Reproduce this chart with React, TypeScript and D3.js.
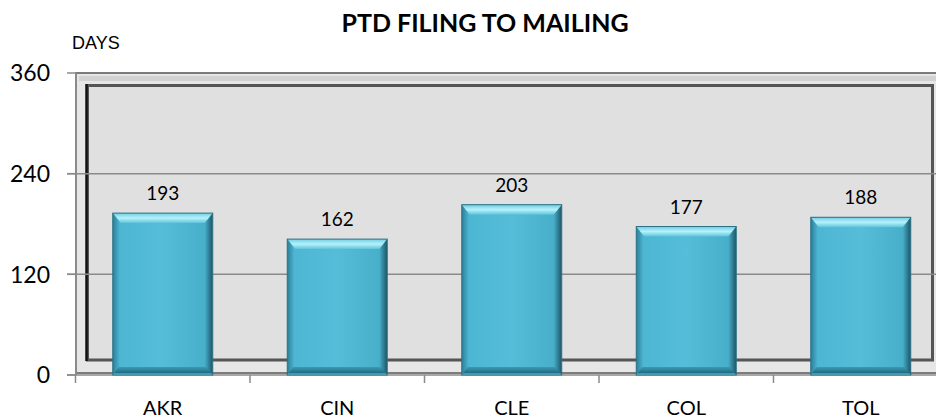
import * as d3 from 'd3';

const categories = ['AKR', 'CIN', 'CLE', 'COL', 'TOL'];
const values = [193, 162, 203, 177, 188];
const yTicks = [0, 120, 240, 360];
const title = 'PTD FILING TO MAILING';
const yUnit = 'DAYS';

const W = 936;
const H = 420;
const plotLeft = 75.5;
const step = 174.5;
const y0 = 375;
const yTop = 73;

export default function App() {
  const x = d3
    .scaleBand<string>()
    .domain(categories)
    .range([plotLeft, plotLeft + step * categories.length])
    .paddingInner(0.427)
    .paddingOuter(0.2135);
  const y = d3.scaleLinear().domain([0, 360]).range([y0, yTop]);
  const bw = x.bandwidth();
  const bev = 8;
  const font = 'Lato, "Open Sans", sans-serif';

  return (
    <div style={{ position: 'fixed', left: 0, top: 0 }}>
      <svg width={W} height={H} viewBox={`0 0 ${W} ${H}`} style={{ display: 'block', background: '#fff' }}>
        <defs>
          <linearGradient id="barH" x1="0" x2="1" y1="0" y2="0">
            <stop offset="0" stopColor="#2a7f98" />
            <stop offset="0.07" stopColor="#4db6d2" />
            <stop offset="0.5" stopColor="#55bdd8" />
            <stop offset="0.92" stopColor="#48afcb" />
            <stop offset="1" stopColor="#1c5566" />
          </linearGradient>
          <linearGradient id="bevTop" x1="0" x2="0" y1="0" y2="1">
            <stop offset="0" stopColor="#6fcde3" />
            <stop offset="0.5" stopColor="#b6f2fb" />
            <stop offset="1" stopColor="#5ec3dc" />
          </linearGradient>
          <linearGradient id="bevBot" x1="0" x2="0" y1="0" y2="1">
            <stop offset="0" stopColor="#3a9ab5" />
            <stop offset="0.7" stopColor="#236f86" />
            <stop offset="1" stopColor="#7fd8ec" />
          </linearGradient>
        </defs>

        {/* back wall */}
        <rect x={76} y={73} width={W} height={300} fill="#e6e6e6" stroke="#7c7c7c" strokeWidth={2} />
        <rect x={79} y={76} width={W} height={5} fill="#d2d2d2" />
        <rect x={87.5} y={85.5} width={845} height={274.5} fill="#e0e0e0" stroke="#555" strokeWidth={3} />
        <line x1={86.5} x2={86.5} y1={84} y2={361} stroke="#111" strokeWidth={2.5} />

        {/* grid */}
        {yTicks.filter((t) => t > 0 && t < 360).map((t) => (
          <line key={t} x1={67} x2={W} y1={y(t)} y2={y(t)} stroke="#8a8a8a" strokeWidth={1.5} />
        ))}

        {/* axes */}
        <line x1={76} x2={76} y1={yTop} y2={y0} stroke="#8a8a8a" strokeWidth={2} />
        <line x1={67} x2={W} y1={y0} y2={y0} stroke="#8a8a8a" strokeWidth={1.5} />
        {yTicks.map((t) => (
          <g key={`yt-${t}`}>
            <line x1={67} x2={76} y1={y(t)} y2={y(t)} stroke="#8a8a8a" strokeWidth={1.5} />
            <text x={50} y={y(t)} dy="0.36em" textAnchor="end" fontFamily={font} fontSize={23} fill="#000">
              {t}
            </text>
          </g>
        ))}
        {categories.map((c, i) => (
          <line
            key={`xt-${c}`}
            x1={plotLeft + step * i}
            x2={plotLeft + step * i}
            y1={y0}
            y2={383}
            stroke="#8a8a8a"
            strokeWidth={1.5}
          />
        ))}

        {/* bars */}
        {categories.map((c, i) => {
          const bx = x(c) as number;
          const by = y(values[i]);
          const bh = y0 - by;
          return (
            <g key={c}>
              <rect x={bx} y={by} width={bw} height={bh} fill="url(#barH)" />
              <polygon
                points={`${bx},${by} ${bx + bw},${by} ${bx + bw - bev},${by + bev + 2} ${bx + bev},${by + bev + 2}`}
                fill="url(#bevTop)"
              />
              <polygon
                points={`${bx},${y0} ${bx + bw},${y0} ${bx + bw - 6},${y0 - 8} ${bx + 6},${y0 - 8}`}
                fill="url(#bevBot)"
              />
              <rect x={bx} y={by} width={bw} height={bh} fill="none" stroke="#2e7186" strokeWidth={1} />
              <text
                x={bx + bw / 2}
                y={by - 13}
                textAnchor="middle"
                fontFamily={font}
                fontSize={19}
                fill="#000"
              >
                {values[i]}
              </text>
              <text
                x={bx + bw / 2}
                y={415}
                textAnchor="middle"
                fontFamily={font}
                fontSize={20}
                fill="#000"
              >
                {c}
              </text>
            </g>
          );
        })}

        <text x={485} y={32} textAnchor="middle" fontFamily={font} fontWeight="bold" fontSize={25} fill="#000">
          {title}
        </text>
        <text x={72} y={49} fontFamily='"Liberation Sans", Arial, sans-serif' fontSize={18} fill="#000">
          {yUnit}
        </text>
      </svg>
    </div>
  );
}
